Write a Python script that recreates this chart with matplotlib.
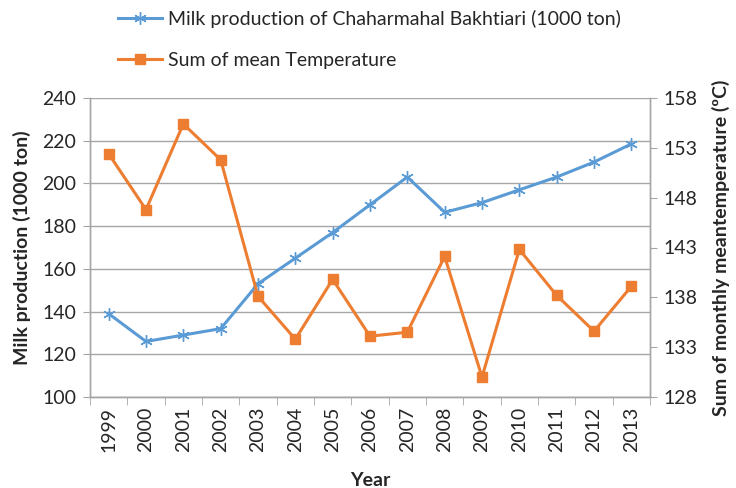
import matplotlib
matplotlib.use("Agg")
import matplotlib.pyplot as plt
from matplotlib.ticker import FixedLocator

years = ["1999", "2000", "2001", "2002", "2003", "2004", "2005", "2006",
         "2007", "2008", "2009", "2010", "2011", "2012", "2013"]
milk = [139, 126, 129, 132, 153, 165, 177, 190, 203, 186.5, 191, 197, 203, 210, 218.5]
temp = [152.4, 146.8, 155.4, 151.8, 138.1, 133.8, 139.8, 134.1, 134.5, 142.1,
        130.0, 142.8, 138.2, 134.6, 139.1]
left_ticks = [100, 120, 140, 160, 180, 200, 220, 240]
right_ticks = [128, 133, 138, 143, 148, 153, 158]

plt.rcParams['font.family'] = ['Lato', 'DejaVu Sans']
BLUE = '#5B9BD5'
ORANGE = '#ED7D31'
GRID = '#A6A6A6'
TXT = '#262626'
FS = 14

fig = plt.figure(figsize=(7.36, 4.88), dpi=100)
ax = fig.add_axes([90/736, 1-397/488, 560/736, 299/488])
ax2 = ax.twinx()

x = list(range(len(years)))
l1, = ax.plot(x, milk, color=BLUE, lw=2.2, marker=(6, 2, 0), ms=9,
              mec=BLUE, mew=1.0, label='Milk production of Chaharmahal Bakhtiari (1000 ton)')
l2, = ax2.plot(x, temp, color=ORANGE, lw=2.2, marker='s', ms=7,
               mec=ORANGE, mfc=ORANGE, label='Sum of mean Temperature')

ax.set_xlim(-0.5, len(years) - 0.5)
ax.set_ylim(100, 240)
ax2.set_ylim(128, 158)
ax.set_yticks(left_ticks)
ax2.set_yticks(right_ticks)
ax.set_xticks(x)
ax.set_xticklabels(years, rotation=90)
ax.xaxis.set_minor_locator(FixedLocator([i - 0.5 for i in range(len(years) + 1)]))
ax.tick_params(axis='x', which='major', length=0, pad=7, labelsize=FS, colors=TXT)
ax.tick_params(axis='x', which='minor', length=6, color=GRID, direction='out')
ax.tick_params(axis='y', length=5, color=GRID, labelsize=FS, labelcolor=TXT, pad=5)
ax2.tick_params(axis='y', length=5, color=GRID, labelsize=FS, labelcolor=TXT, pad=5)

ax.grid(axis='y', color=GRID, lw=1.0)
ax.set_axisbelow(True)
for a in (ax, ax2):
    a.spines['top'].set_visible(False)
    for s in ('left', 'right', 'bottom'):
        a.spines[s].set_color(GRID)
        a.spines[s].set_linewidth(1.0)

ax.set_xlabel('Year', fontsize=FS, fontweight='bold', color=TXT, labelpad=14)
ax.set_ylabel('Milk production (1000 ton)', fontsize=FS, fontweight='bold', color=TXT, labelpad=8)
ax2.set_ylabel('Sum of monthly meantemperature (ºC)', fontsize=FS, fontweight='bold',
               color=TXT, labelpad=10)

fig.legend(handles=[l1, l2], loc='upper left', bbox_to_anchor=(100/736, 1.015),
           frameon=False, fontsize=FS, labelspacing=1.2, handlelength=2.3,
           handletextpad=0.3, labelcolor=TXT)

fig.savefig('out.png', dpi=100)
